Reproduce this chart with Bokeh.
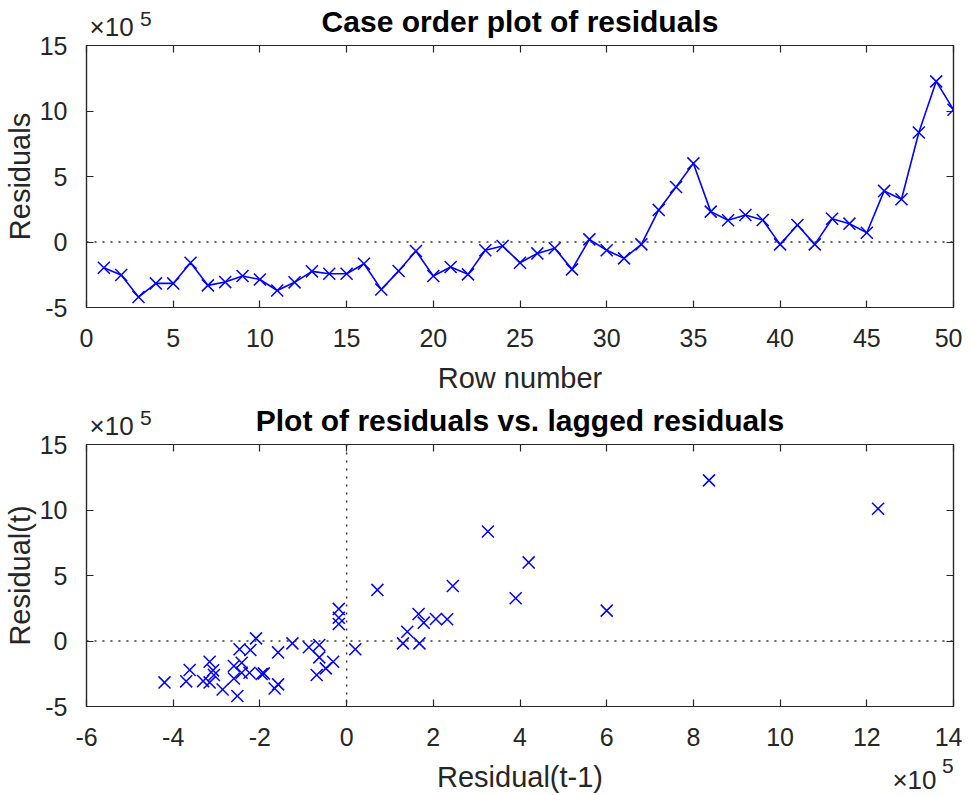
from bokeh.plotting import figure
from bokeh.layouts import column
from bokeh.models import LinearAxis, Range1d, Span, FixedTicker
from bokeh.embed import file_html
from bokeh.resources import INLINE

# ---------------- data (residuals in units of 1e5) ----------------
row_number = list(range(1, 51))
residuals_e5 = [-1.96, -2.52, -4.20, -3.16, -3.16, -1.58, -3.31, -3.06, -2.60, -2.86,
                -3.70, -3.08, -2.24, -2.42, -2.42, -1.66, -3.62, -2.22, -0.69, -2.60,
                -1.91, -2.47, -0.63, -0.31, -1.58, -0.87, -0.48, -2.09, 0.20, -0.63,
                -1.25, -0.18, 2.45, 4.20, 6.00, 2.32, 1.66, 2.06, 1.68, -0.18,
                1.30, -0.18, 1.78, 1.40, 0.71, 3.90, 3.26, 8.36, 12.26, 10.10]
lagged_prev = residuals_e5[:-1]   # Residual(t-1)
lagged_curr = residuals_e5[1:]    # Residual(t)

top_xticks = [0, 5, 10, 15, 20, 25, 30, 35, 40, 45, 50]
top_yticks = [-5, 0, 5, 10, 15]
bot_xticks = [-6, -4, -2, 0, 2, 4, 6, 8, 10, 12, 14]
bot_yticks = [-5, 0, 5, 10, 15]

top_title = "Case order plot of residuals"
bot_title = "Plot of residuals vs. lagged residuals"
exp_base = "\u00d710"
exp_power = "5"

FONT = "Liberation Sans"
AXC = "#262626"
BLUE = "#0000ff"


def style_axis(ax, ticks, label, is_x):
    ax.ticker = FixedTicker(ticks=ticks)
    ax.major_label_overrides = {t: str(t) for t in ticks}
    ax.minor_tick_line_color = None
    ax.major_tick_in = 7
    ax.major_tick_out = 0
    ax.major_tick_line_color = AXC
    ax.major_tick_line_width = 1.2
    ax.axis_line_color = AXC
    ax.axis_line_width = 1.2
    ax.major_label_text_font = FONT
    ax.major_label_text_font_size = "25px"
    ax.major_label_text_color = AXC
    ax.axis_label = label
    ax.axis_label_text_font = FONT
    ax.axis_label_text_font_size = "29px"
    ax.axis_label_text_font_style = "normal"
    ax.axis_label_text_color = AXC
    if is_x:
        ax.major_label_standoff = 21
        ax.axis_label_standoff = 12
    else:
        ax.major_label_standoff = 19
        ax.axis_label_standoff = 1


def note_axis(pos, text, size, standoff):
    """Bare axis (no line, no ticks) whose single tick label is a text note."""
    a = LinearAxis(ticker=FixedTicker(ticks=[pos]))
    a.major_label_overrides = {pos: text}
    a.major_tick_line_color = None
    a.minor_tick_line_color = None
    a.axis_line_color = None
    a.major_label_text_font = FONT
    a.major_label_text_font_size = size
    a.major_label_text_color = AXC
    a.major_label_standoff = standoff
    return a


def box_axis(box_ticks, label_pos=None, title=None):
    """Axis on the open side: inside box ticks (as minor ticks), plus the
    optional exponent base (as a tick label) and the plot title (as axis label)."""
    a = LinearAxis(ticker=FixedTicker(ticks=[] if label_pos is None else [label_pos],
                                      minor_ticks=box_ticks))
    a.major_tick_line_color = None
    a.minor_tick_in = 7
    a.minor_tick_out = 0
    a.minor_tick_line_color = AXC
    a.minor_tick_line_width = 1.2
    a.axis_line_color = AXC
    a.axis_line_width = 1.2
    a.major_label_text_font = FONT
    a.major_label_text_font_size = "26px"
    a.major_label_text_color = AXC
    a.major_label_standoff = -2
    if label_pos is not None:
        a.major_label_overrides = {label_pos: exp_base}
    if title is not None:
        a.axis_label = title
        a.axis_label_text_font = FONT
        a.axis_label_text_font_size = "30px"
        a.axis_label_text_font_style = "bold"
        a.axis_label_text_color = "black"
        a.axis_label_standoff = -29
    return a


def make_fig(xr, yr, xticks, yticks, xlabel, ylabel, top, bottom, title, exp_x, pow_x):
    p = figure(x_range=Range1d(*xr), y_range=Range1d(*yr),
               frame_width=867, frame_height=262,
               min_border_left=81, min_border_right=9,
               min_border_top=top, min_border_bottom=bottom,
               output_backend="svg", toolbar_location=None,
               background_fill_color="white", border_fill_color="white",
               outline_line_color=AXC, outline_line_width=1.2)
    p.grid.visible = False
    style_axis(p.xaxis[0], xticks, xlabel, True)
    style_axis(p.yaxis[0], yticks, ylabel, False)
    p.add_layout(box_axis(xticks, exp_x, title), "above")
    p.add_layout(note_axis(pow_x, exp_power, "21px", -30), "above")
    p.add_layout(box_axis(yticks), "right")
    return p


dots = dict(line_dash="2 6", line_color="#333333", line_width=1.5)

# ---------------- top: case order plot ----------------
p1 = make_fig((0, 50), (-5, 15), top_xticks, top_yticks, "Row number", "Residuals",
              45, 91, top_title, 1.45, 3.42)
p1.add_layout(Span(location=0, dimension="width", **dots))
p1.line(row_number, residuals_e5, line_color=BLUE, line_width=1.6)
p1.scatter(row_number, residuals_e5, marker="x", size=17, line_color=BLUE, line_width=1.5)

# ---------------- bottom: lagged residuals ----------------
p2 = make_fig((-6, 14), (-5, 15), bot_xticks, bot_yticks, "Residual(t-1)", "Residual(t)",
              46, 89, bot_title, -5.42, -4.63)
p2.add_layout(Span(location=0, dimension="width", **dots))
p2.add_layout(Span(location=0, dimension="height", **dots))
p2.scatter(lagged_prev, lagged_curr, marker="x", size=17, line_color=BLUE, line_width=1.5)

# exponent note under the bottom-right corner of the lower plot
p2.add_layout(note_axis(13.10, exp_base, "26px", -37), "below")
p2.add_layout(note_axis(13.87, exp_power, "21px", -45), "below")

layout = column(p1, p2, spacing=0)
open("out.html", "w").write(file_html(layout, INLINE))
